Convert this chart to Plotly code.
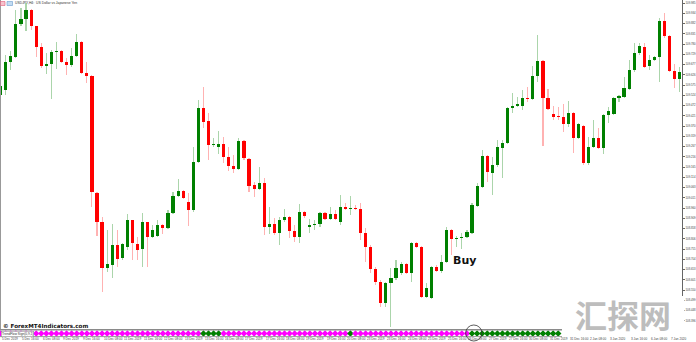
import plotly.graph_objects as go

W, H = 696, 342
PLOT_W = 682  # plot area width (price scale on the right)

# ---------------- data (USDJPY, H4) ----------------
open_ = [
    109.525, 109.550, 109.690, 109.715, 109.880, 109.905, 109.950, 109.870, 109.765, 109.670,
    109.680, 109.740, 109.745, 109.690, 109.675, 109.720, 109.790, 109.635, 109.620, 109.035,
    108.890, 108.660, 108.675, 108.775, 108.710, 108.765, 108.900, 108.780, 108.755, 108.890,
    108.815, 108.820, 108.875, 108.860, 108.935, 109.020, 109.045, 108.990, 108.950, 109.190,
    109.460, 109.395, 109.275, 109.265, 109.280, 109.215, 109.170, 109.155, 109.295, 109.205,
    109.075, 109.055, 109.085, 108.865, 108.880, 108.835, 108.900, 108.915, 108.845, 108.815,
    108.940, 108.865, 108.875, 108.880, 108.935, 108.905, 108.930, 108.890, 108.965, 108.955,
    108.960, 108.955, 108.835, 108.765, 108.655, 108.590, 108.485, 108.585, 108.610, 108.635,
    108.680, 108.635, 108.785, 108.765, 108.515, 108.510, 108.665, 108.645, 108.690, 108.850,
    108.805, 108.810, 108.815, 108.835, 108.970, 109.065, 109.220, 109.135, 109.175, 109.260,
    109.285, 109.460, 109.470, 109.470, 109.510, 109.505, 109.620, 109.695, 109.510, 109.430,
    109.420, 109.415, 109.380, 109.435, 109.310, 109.370, 109.185, 109.265, 109.310, 109.260,
    109.425, 109.430, 109.510, 109.515, 109.555, 109.650, 109.735, 109.765, 109.670, 109.700,
    109.715, 109.895, 109.820, 109.645, 109.605,
]
high = [
    109.580, 109.725, 109.745, 109.950, 109.960, 109.985, 109.955, 109.870, 109.785, 109.735,
    109.750, 109.790, 109.750, 109.710, 109.760, 109.830, 109.795, 109.690, 109.625, 109.040,
    108.915, 108.850, 108.880, 108.850, 108.785, 108.930, 108.900, 108.815, 108.935, 108.890,
    108.875, 108.900, 108.880, 108.950, 109.040, 109.105, 109.050, 109.035, 109.265, 109.500,
    109.565, 109.435, 109.310, 109.345, 109.315, 109.265, 109.225, 109.310, 109.300, 109.210,
    109.090, 109.165, 109.110, 108.965, 108.910, 108.915, 108.955, 108.920, 108.875, 108.980,
    108.945, 108.905, 108.900, 108.940, 108.940, 108.965, 108.950, 109.025, 108.985, 109.020,
    108.975, 108.985, 108.860, 108.775, 108.665, 108.600, 108.590, 108.660, 108.700, 108.690,
    108.685, 108.790, 108.790, 108.770, 108.585, 108.670, 108.675, 108.725, 108.865, 108.855,
    108.820, 108.835, 108.850, 108.985, 109.085, 109.250, 109.225, 109.215, 109.300, 109.300,
    109.465, 109.535, 109.515, 109.550, 109.565, 109.670, 109.825, 109.700, 109.555, 109.470,
    109.465, 109.480, 109.495, 109.440, 109.385, 109.375, 109.315, 109.400, 109.360, 109.430,
    109.465, 109.515, 109.525, 109.615, 109.700, 109.785, 109.785, 109.785, 109.725, 109.720,
    109.910, 109.935, 109.825, 109.680, 109.665,
]
low = [
    109.515, 109.525, 109.650, 109.710, 109.870, 109.845, 109.850, 109.715, 109.660, 109.630,
    109.505, 109.655, 109.685, 109.625, 109.665, 109.715, 109.630, 109.585, 108.965, 108.820,
    108.540, 108.640, 108.610, 108.665, 108.700, 108.750, 108.700, 108.700, 108.665, 108.665,
    108.810, 108.815, 108.830, 108.855, 108.930, 109.015, 109.005, 108.870, 108.940, 109.185,
    109.360, 109.200, 109.265, 109.230, 109.185, 109.145, 109.135, 109.150, 109.200, 109.040,
    109.015, 109.050, 108.825, 108.830, 108.825, 108.775, 108.890, 108.810, 108.790, 108.785,
    108.910, 108.835, 108.850, 108.865, 108.900, 108.900, 108.900, 108.875, 108.950, 108.925,
    108.950, 108.800, 108.690, 108.635, 108.575, 108.465, 108.465, 108.365, 108.600, 108.625,
    108.630, 108.590, 108.760, 108.510, 108.510, 108.505, 108.640, 108.635, 108.685, 108.725,
    108.765, 108.755, 108.810, 108.830, 108.965, 109.060, 109.090, 109.025, 109.165, 109.110,
    109.280, 109.435, 109.465, 109.450, 109.490, 109.500, 109.590, 109.270, 109.450, 109.400,
    109.400, 109.340, 109.365, 109.235, 109.305, 109.175, 109.175, 109.260, 109.255, 109.230,
    109.385, 109.425, 109.490, 109.510, 109.550, 109.640, 109.725, 109.660, 109.650, 109.695,
    109.590, 109.810, 109.640, 109.560, 109.540,
]
close = [
    109.570, 109.690, 109.720, 109.880, 109.905, 109.950, 109.870, 109.765, 109.670, 109.680,
    109.740, 109.745, 109.690, 109.675, 109.720, 109.790, 109.635, 109.620, 109.040, 108.890,
    108.660, 108.680, 108.775, 108.705, 108.780, 108.900, 108.785, 108.750, 108.890, 108.815,
    108.850, 108.875, 108.860, 108.935, 109.020, 109.045, 109.010, 108.950, 109.190, 109.460,
    109.390, 109.275, 109.280, 109.280, 109.215, 109.170, 109.155, 109.295, 109.210, 109.070,
    109.055, 109.085, 108.865, 108.880, 108.835, 108.900, 108.915, 108.845, 108.815, 108.940,
    108.920, 108.875, 108.880, 108.935, 108.905, 108.930, 108.905, 108.965, 108.955, 108.960,
    108.955, 108.835, 108.765, 108.655, 108.590, 108.485, 108.585, 108.610, 108.660, 108.680,
    108.635, 108.785, 108.765, 108.515, 108.560, 108.665, 108.645, 108.690, 108.850, 108.805,
    108.810, 108.815, 108.840, 108.975, 109.070, 109.220, 109.140, 109.175, 109.265, 109.285,
    109.460, 109.470, 109.480, 109.510, 109.505, 109.620, 109.695, 109.510, 109.455, 109.415,
    109.415, 109.380, 109.435, 109.310, 109.380, 109.185, 109.265, 109.310, 109.260, 109.425,
    109.445, 109.510, 109.520, 109.560, 109.650, 109.735, 109.770, 109.665, 109.700, 109.715,
    109.895, 109.820, 109.645, 109.605, 109.640,
]

# indicator strip: 1 = up (green diamond), -1 = down (magenta diamond)
signal = [
    -1, -1, -1, -1, -1, -1, -1, -1, -1, -1,
    -1, -1, -1, -1, -1, -1, -1, -1, -1, -1,
    -1, -1, -1, -1, -1, -1, -1, -1, -1, -1,
    -1, -1, -1, -1, -1, -1, -1, -1, -1, -1,
    1, 1, 1, 1, -1, -1, -1, -1, -1, -1,
    -1, -1, -1, -1, -1, -1, -1, -1, -1, -1,
    -1, -1, -1, -1, -1, -1, -1, -1, -1, 1,
    -1, -1, -1, -1, -1, -1, -1, -1, -1, -1,
    -1, -1, -1, -1, -1, -1, -1, -1, -1, -1,
    -1, -1, -1, 1, 1, 1, 1, 1, 1, 1,
    1, 1, 1, 1, 1, 1, 1, 1, 1, 1,
    1,
]

# time-axis labels, one every 4 bars
date_label_bars = [0, 4, 8, 12, 16, 20, 24, 28, 32, 36, 40, 44, 48, 52, 56, 60, 64,
                   68, 72, 76, 80, 84, 88, 92, 96, 100, 104, 108, 112, 116, 120, 124, 128, 132]
date_labels = [
    "5 Dec 2019", "5 Dec 16:00", "6 Dec 08:00", "9 Dec 2019", "9 Dec 16:00",
    "10 Dec 08:00", "11 Dec 2019", "11 Dec 16:00", "12 Dec 08:00", "13 Dec 2019",
    "13 Dec 16:00", "16 Dec 08:00", "17 Dec 2019", "17 Dec 16:00", "18 Dec 08:00",
    "19 Dec 2019", "19 Dec 16:00", "20 Dec 08:00", "23 Dec 2019", "23 Dec 16:00",
    "24 Dec 08:00", "25 Dec 2019", "25 Dec 16:00", "26 Dec 08:00", "27 Dec 2019",
    "27 Dec 16:00", "30 Dec 08:00", "31 Dec 2019", "31 Dec 16:00", "2 Jan 08:00",
    "3 Jan 2020", "3 Jan 16:00", "6 Jan 08:00", "7 Jan 2020",
]

title_text = "USDJPY,H4:  US Dollar vs Japanese Yen"
indicator_label = "TrendFlow Sign(0,9,1)"
buy_text = "Buy"
buy_price = 108.70

# ---------------- styling ----------------
UP = "#008000"
DOWN = "#FF0000"
UP_WICK = "rgba(0,128,0,0.33)"
DOWN_WICK = "rgba(255,0,0,0.30)"
SIG_UP = "#008000"
SIG_DOWN = "#FF00FF"


def py(px):  # pixel row -> paper y
    return (H - px) / H


def pxx(px):  # pixel column -> paper x
    return px / PLOT_W


n = len(open_)
xs = list(range(n))
is_up = [c >= o for o, c in zip(open_, close)]

fig = go.Figure()

# wicks
fig.add_trace(go.Bar(
    x=xs, base=low, y=[h - l for h, l in zip(high, low)], width=0.22,
    marker=dict(color=[UP_WICK if u else DOWN_WICK for u in is_up], line=dict(width=0)),
    hoverinfo="skip", showlegend=False,
))
# bodies
fig.add_trace(go.Bar(
    x=xs, base=[min(o, c) for o, c in zip(open_, close)],
    y=[abs(c - o) for o, c in zip(open_, close)], width=0.62,
    marker=dict(color=[UP if u else DOWN for u in is_up], line=dict(width=0)),
    showlegend=False,
))
# indicator diamonds
fig.add_trace(go.Scatter(
    x=list(range(len(signal))), y=[0] * len(signal), yaxis="y2", mode="markers",
    marker=dict(symbol="diamond", size=5,
                color=[SIG_UP if s > 0 else SIG_DOWN for s in signal], line=dict(width=0)),
    showlegend=False, hoverinfo="skip",
))

buy_idx = max(i for i in range(1, len(signal)) if signal[i] > 0 and signal[i - 1] < 0)

x_lo = -0.7 / 5.068
x_hi = (PLOT_W - 0.7) / 5.068

annotations = []
# title
annotations.append(dict(x=pxx(13), y=py(3.5), xref="paper", yref="paper", text=title_text,
                        showarrow=False, xanchor="left", yanchor="middle",
                        font=dict(size=3.4, color="#333", family="Liberation Sans")))
# copyright
annotations.append(dict(x=pxx(1), y=py(325.5), xref="paper", yref="paper",
                        text="<b>© ForexMT4Indicators.com</b>", showarrow=False,
                        xanchor="left", yanchor="middle",
                        font=dict(size=5.6, color="#111", family="DejaVu Sans")))
# indicator label box
annotations.append(dict(x=pxx(0.5), y=py(333.5), xref="paper", yref="paper",
                        text=indicator_label, showarrow=False, xanchor="left", yanchor="middle",
                        bgcolor="white", bordercolor="#888", borderwidth=0.5, borderpad=0.5,
                        font=dict(size=3.2, color="#333", family="Liberation Sans")))
# Buy label
annotations.append(dict(x=buy_idx - 1.45, y=buy_price, xref="x", yref="y",
                        text="<b>" + buy_text + "</b>", showarrow=False,
                        xanchor="center", yanchor="middle",
                        font=dict(size=11, color="#111", family="DejaVu Sans")))
# date labels
for b, lab in zip(date_label_bars, date_labels):
    annotations.append(dict(x=b - 0.1, y=py(339.2), xref="x", yref="paper", text=lab,
                            showarrow=False, xanchor="left", yanchor="middle",
                            font=dict(size=3.1, color="#444", family="Liberation Sans")))
# watermark
annotations.append(dict(x=pxx(623), y=py(314), xref="paper", yref="paper",
                        text="<b>汇探网</b>", showarrow=False, xanchor="center", yanchor="middle",
                        font=dict(size=32, color="#bdbdbd", family="Noto Sans CJK SC")))

shapes = [
    # left border
    dict(type="line", xref="paper", yref="paper", x0=pxx(0.5), x1=pxx(0.5), y0=py(0), y1=py(330),
         line=dict(color="#999", width=1)),
    # indicator window borders
    dict(type="line", xref="paper", yref="paper", x0=0, x1=pxx(562), y0=py(329.8), y1=py(329.8),
         line=dict(color="#8a8a8a", width=1.6)),
    dict(type="line", xref="paper", yref="paper", x0=0, x1=pxx(562), y0=py(336.6), y1=py(336.6),
         line=dict(color="#9a9a9a", width=1)),
    # watermark white box
    dict(type="rect", xref="paper", yref="paper", x0=pxx(562), x1=pxx(684.5), y0=py(338), y1=py(296),
         fillcolor="white", line=dict(width=0), layer="above"),
    # title icons
    dict(type="rect", xref="paper", yref="paper", x0=pxx(0.5), x1=pxx(5), y0=py(5.5), y1=py(1.5),
         fillcolor="#f6c2cc", line=dict(color="#e05a78", width=0.6), layer="above"),
    dict(type="rect", xref="paper", yref="paper", x0=pxx(7), x1=pxx(12.5), y0=py(5.5), y1=py(1.5),
         fillcolor="#c4dcf2", line=dict(color="#6a9ccc", width=0.6), layer="above"),
    # circle around buy signal
    dict(type="circle", xref="x", yref="paper", x0=buy_idx + 0.35 - 1.6, x1=buy_idx + 0.35 + 1.6,
         y0=py(341), y1=py(325), line=dict(color="#333", width=0.8), layer="above"),
]

fig.update_layout(
    width=W, height=H,
    margin=dict(l=0, r=W - PLOT_W, t=0, b=0, pad=0),
    paper_bgcolor="white", plot_bgcolor="white",
    barmode="overlay", bargap=0,
    showlegend=False,
    xaxis=dict(range=[x_lo, x_hi], showgrid=False, zeroline=False, showticklabels=False,
               ticks="", showline=False, fixedrange=True),
    yaxis=dict(domain=[py(328), 1], range=[108.36, 110.0], side="right",
               showgrid=False, zeroline=False, showline=True, linecolor="#666", linewidth=1,
               ticks="outside", ticklen=2, tickcolor="#666", tickwidth=0.8,
               tick0=109.985, dtick=0.05125, tickformat=".3f", automargin=False,
               tickfont=dict(size=2.8, color="#444", family="Liberation Sans")),
    yaxis2=dict(domain=[py(337), py(330)], range=[-1, 1], anchor="x", showgrid=False,
                zeroline=False, showticklabels=False, showline=False, ticks=""),
    annotations=annotations,
    shapes=shapes,
)

fig.write_html("out.html")
